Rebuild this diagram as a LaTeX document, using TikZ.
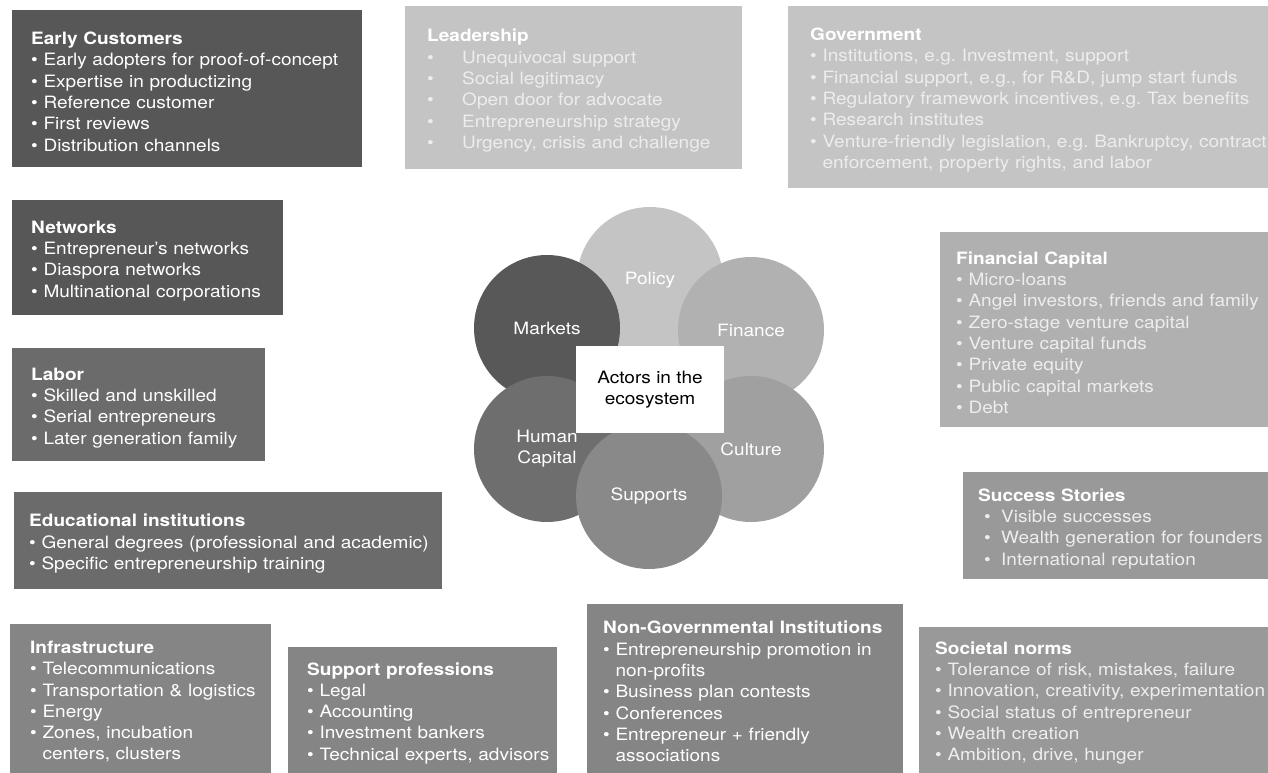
\documentclass[tikz,border=0pt]{standalone}
\usepackage{fontspec}
\setmainfont{TeX Gyre Heros}[FakeStretch=1.12]
\frenchspacing
\definecolor{gDark}{HTML}{575757}
\definecolor{gMid}{HTML}{6B6B6B}
\definecolor{gMed}{HTML}{858585}
\definecolor{gSoft}{HTML}{999999}
\definecolor{gLight}{HTML}{B0B0B0}
\definecolor{gPale}{HTML}{C4C4C4}
\definecolor{cPol}{HTML}{C4C4C4}
\definecolor{cFin}{HTML}{B1B1B1}
\definecolor{cCul}{HTML}{A0A0A0}
\definecolor{cSup}{HTML}{898989}
\definecolor{cHum}{HTML}{6E6E6E}
\definecolor{cMar}{HTML}{585858}
\definecolor{soft}{HTML}{EDEDED}
\newcommand{\hd}[1]{\rule{0pt}{18.5pt}\textcolor{white}{\bfseries #1}}
\newcommand{\bpt}[1]{\mbox{\textbullet\ #1}}
\newcommand{\bcont}[1]{\mbox{\phantom{\textbullet\ }#1}}
\newcommand{\btab}[1]{\mbox{\makebox[35pt][l]{\textbullet}#1}}
\newcommand{\bind}[1]{\mbox{\hspace*{6pt}\makebox[17pt][l]{\textbullet}#1}}
\begin{document}
\begin{tikzpicture}[x=1pt, y=-1pt, font=\fontsize{17}{21.3}\selectfont,
  box/.style={anchor=north west, align=left, inner ysep=0pt, text=white},
  disc/.style={circle, minimum size=146pt, inner sep=0pt, text=white, align=center}]
 \useasboundingbox (0,0) rectangle (1268,773);
 % left column
 \node[box, fill=gDark, inner xsep=19pt, text width=312pt, minimum height=157pt] (early) at (12,10)
  {\hd{Early Customers}\\ \bpt{Early adopters for proof-of-concept}\\ \bpt{Expertise in productizing}\\
   \bpt{Reference customer}\\ \bpt{First reviews}\\ \bpt{Distribution channels}};
 \node[box, fill=gDark, inner xsep=19pt, text width=233pt, minimum height=115pt] (networks) at (12,200)
  {\hd{Networks}\\ \bpt{Entrepreneur’s networks}\\ \bpt{Diaspora networks}\\ \bpt{Multinational corporations}};
 \node[box, fill=gMid, inner xsep=19pt, text width=215pt, minimum height=113pt] (labor) at (12,348)
  {\hd{Labor}\\ \bpt{Skilled and unskilled}\\ \bpt{Serial entrepreneurs}\\ \bpt{Later generation family}};
 \node[box, fill=gMid, inner xsep=15pt, text width=398pt, minimum height=97pt] (edu) at (14,492)
  {\hd{Educational institutions}\\ \bpt{General degrees (professional and academic)}\\
   \bpt{Specific entrepreneurship training}};
 % top
 \node[box, fill=gPale, text=soft, inner xsep=22pt, text width=293pt, minimum height=163pt] (leader) at (405,6)
  {\hd{Leadership}\\ \btab{Unequivocal support}\\ \btab{Social legitimacy}\\ \btab{Open door for advocate}\\
   \btab{Entrepreneurship strategy}\\ \btab{Urgency, crisis and challenge}};
 \node[box, fill=gPale, text=soft, inner xsep=22pt, text width=436pt, minimum height=182pt] (govt) at (788,6)
  {\hd{Government}\\ \bpt{Institutions, e.g. Investment, support}\\
   \bpt{Financial support, e.g., for R\&D, jump start funds}\\
   \bpt{Regulatory framework incentives, e.g. Tax benefits}\\ \bpt{Research institutes}\\
   \bpt{Venture-friendly legislation, e.g. Bankruptcy, contract}\\
   \bcont{enforcement, property rights, and labor}};
 % right column
 \node[box, fill=gLight, text=soft, inner xsep=16pt, text width=296pt, minimum height=195pt] (finbox) at (940,232)
  {\hd{Financial Capital}\\ \bpt{Micro-loans}\\ \bpt{Angel investors, friends and family}\\
   \bpt{Zero-stage venture capital}\\ \bpt{Venture capital funds}\\ \bpt{Private equity}\\
   \bpt{Public capital markets}\\ \bpt{Debt}};
 \node[box, fill=gSoft, text=soft, inner xsep=15pt, text width=275pt, minimum height=107pt] (success) at (963,472)
  {\hd{Success Stories}\\ \bind{Visible successes}\\ \bind{Wealth generation for founders}\\
   \bind{International reputation}};
 % bottom row
 \node[box, fill=gMed, inner xsep=20pt, text width=221pt, minimum height=149pt] (infra) at (10,624)
  {\hd{Infrastructure}\\ \bpt{Telecommunications}\\ \bpt{Transportation \& logistics}\\ \bpt{Energy}\\
   \bpt{Zones, incubation}\\ \bcont{centers, clusters}};
 \node[box, fill=gMed, inner xsep=19pt, text width=231pt, minimum height=126pt] (profs) at (288,647)
  {\hd{Support professions}\\ \bpt{Legal}\\ \bpt{Accounting}\\ \bpt{Investment bankers}\\
   \bpt{Technical experts, advisors}};
 \node[box, fill=gMed, inner xsep=16pt, text width=284pt, minimum height=169pt] (ngo) at (587,604)
  {\hd{Non-Governmental Institutions}\\ \bpt{Entrepreneurship promotion in}\\ \bcont{non-profits}\\
   \bpt{Business plan contests}\\ \bpt{Conferences}\\ \bpt{Entrepreneur + friendly}\\ \bcont{associations}};
 \node[box, fill=gSoft, text=soft, inner xsep=16pt, text width=317pt, minimum height=146pt] (norms) at (919,627)
  {\hd{Societal norms}\\ \bpt{Tolerance of risk, mistakes, failure}\\ \bpt{Innovation, creativity, experimentation}\\
   \bpt{Social status of entrepreneur}\\ \bpt{Wealth creation}\\ \bpt{Ambition, drive, hunger}};
 % the six domains
 \foreach \nm/\cx/\cy/\cc/\tx in {pol/650/280/cPol/Policy, fin/751/330/cFin/Finance, cul/751/449/cCul/Culture,
   mar/547/328/cMar/Markets, hum/547/449/cHum/{Human\\Capital}, sup/649/496/cSup/Supports}
  \node[disc, fill=\cc] (\nm) at (\cx,\cy) {\tx};
 \node[fill=white, minimum width=148pt, minimum height=87pt, align=center] (core) at (650,389.5)
  {Actors in the\\ecosystem};
\end{tikzpicture}
\end{document}
